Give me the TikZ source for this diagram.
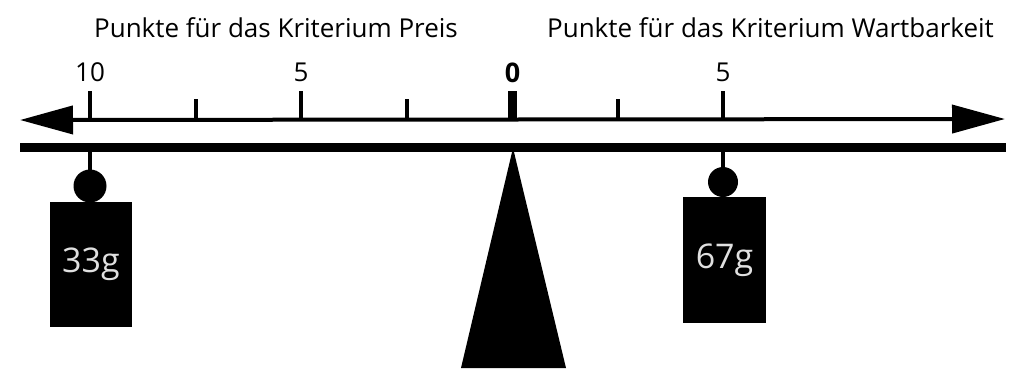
\documentclass[tikz,border=0pt]{standalone}
\usepackage{fontspec}
\setmainfont{Open Sans}
\usetikzlibrary{arrows.meta}
\begin{document}
\begin{tikzpicture}[x=1pt,y=-1pt,
  axisline/.style={line width=4pt,{Triangle[length=53pt,width=28pt]}-{Triangle[length=53pt,width=28pt]}},
  tickline/.style={line width=3.5pt},
  title/.style={font=\fontsize{26}{30}\selectfont,anchor=base,inner sep=0pt},
  numlabel/.style={font=\fontsize{26}{30}\selectfont,anchor=base,inner sep=0pt},
  ball/.style={circle,fill=black,inner sep=0pt},
  weightbox/.style={rectangle,fill=black,inner sep=0pt},
  weighttext/.style={font=\fontsize{34}{40}\selectfont,text=black!12,anchor=base,inner sep=0pt},
  stringline/.style={line width=3.5pt}]
\useasboundingbox (0,0) rectangle (1015,368);
% titles
\node[title] (t1) at (276,37) {Punkte für das Kriterium Preis};
\node[title] (t2) at (770.5,37) {Punkte für das Kriterium Wartbarkeit};
% axis
\coordinate (L) at (20,120);
\coordinate (R) at (1005,119);
\draw[axisline] (L) -- (R);
% ticks
\foreach \x/\n in {90/a,301/b,723/d}{
  \coordinate (mt\n) at (\x,91);
  \coordinate (mb\n) at (\x,120);
  \draw[tickline] (mt\n) -- (mb\n);
}
\foreach \x/\n in {196/a,407/b,618/c}{
  \coordinate (nt\n) at (\x,99);
  \coordinate (nb\n) at (\x,120);
  \draw[tickline] (nt\n) -- (nb\n);
}
\fill (508,91) rectangle (517,120);
% numbers
\node[numlabel] (n10) at (90,81) {10};
\node[numlabel] (n5a) at (301,81) {5};
\node[numlabel,font=\fontsize{27}{30}\selectfont\bfseries] (n0) at (512.5,82) {0};
\node[numlabel] (n5b) at (723,81) {5};
% beam
\fill (20,143) rectangle (1006,152);
% fulcrum
\fill (513,148) -- (566,368) -- (461,368) -- cycle;
% left weight
\coordinate (s1) at (90,150);
\node[ball,minimum size=33pt] (b1) at (90,186) {};
\node[weightbox,minimum width=82pt,minimum height=125pt] (w1) at (91,264.5) {};
\draw[stringline] (s1) -- (b1.center);
\node[weighttext] (l1) at (91,272) {33g};
% right weight
\coordinate (s2) at (723,150);
\node[ball,minimum size=30pt] (b2) at (723,182) {};
\node[weightbox,minimum width=83pt,minimum height=126pt] (w2) at (724.5,260) {};
\draw[stringline] (s2) -- (b2.center);
\node[weighttext] (l2) at (724.5,268) {67g};
\end{tikzpicture}
\end{document}
